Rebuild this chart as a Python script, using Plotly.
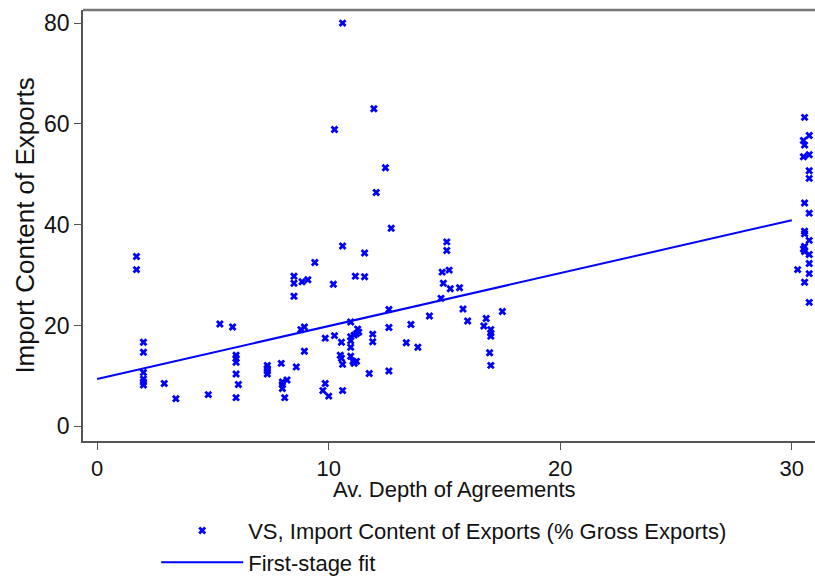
import plotly.graph_objects as go

# VS points, grouped by region of the x axis
low_depth = [1.7, 1.7, 2.0, 2.0, 2.0, 2.0, 2.0, 2.0, 2.9, 3.4, 4.8, 5.3, 5.85,
             6.0, 6.0, 6.0, 6.0, 6.1, 6.0, 7.35, 7.35, 7.35, 7.35, 7.95, 8.6,
             8.2, 8.0, 8.0, 8.0, 8.1, 8.5, 8.5, 8.5, 8.85, 9.1, 9.4, 8.8, 8.95, 8.95]
low_vs = [33.7, 31.1, 16.7, 14.7, 10.7, 9.4, 8.8, 8.2, 8.5, 5.5, 6.3, 20.3, 19.7,
          14.1, 13.5, 12.7, 10.4, 8.3, 5.7, 12.1, 11.5, 11.0, 10.4, 12.5, 11.8,
          9.2, 8.8, 8.3, 7.5, 5.7, 29.8, 28.4, 25.8, 28.7, 29.1, 32.5, 19.2, 19.7, 14.9]

mid_depth = [10.6, 11.95, 10.25, 12.45, 12.05, 12.7, 10.6, 11.55, 11.15, 11.55, 10.2,
             15.1, 15.1, 14.9, 15.2, 14.95, 15.25, 15.65, 14.85,
             12.6, 15.8, 16.0, 14.35, 13.55, 12.6, 10.95,
             16.8, 16.7, 17.0, 17.0, 17.0, 16.95, 17.0, 17.5,
             11.25, 11.3, 11.2, 11.1, 10.95, 10.95, 10.95, 10.95,
             10.55, 10.25, 9.85, 11.9, 11.9, 13.35, 13.85,
             10.5, 10.55, 10.6, 11.05, 11.2, 11.1, 11.75, 12.6,
             9.85, 9.75, 10.0, 10.6]
mid_vs = [80.0, 63.0, 58.9, 51.3, 46.4, 39.3, 35.8, 34.4, 29.8, 29.7, 28.2,
          36.6, 34.9, 30.6, 31.0, 28.4, 27.3, 27.5, 25.4,
          23.2, 23.3, 20.9, 21.9, 20.2, 19.6, 20.7,
          21.4, 19.9, 19.2, 18.5, 17.9, 14.6, 12.1, 22.8,
          19.3, 18.7, 18.4, 18.1, 17.8, 17.0, 15.7, 13.9,
          16.7, 18.0, 17.5, 18.3, 16.8, 16.6, 15.7,
          14.1, 13.5, 12.3, 12.9, 12.9, 12.5, 10.5, 11.0,
          8.5, 7.1, 6.0, 7.1]

high_depth = [30.55, 30.75, 30.5, 30.55, 30.5, 30.75, 30.75, 30.75, 30.55, 30.75, 30.55,
              30.55, 30.75, 30.55, 30.5, 30.55, 30.75, 30.75, 30.25, 30.75, 30.55, 30.75]
high_vs = [61.3, 57.7, 56.7, 55.8, 53.5, 53.9, 50.7, 49.2, 44.3, 42.3, 38.7,
           38.2, 36.9, 35.7, 35.2, 34.7, 34.1, 32.3, 31.1, 30.3, 28.6, 24.6]

depth = low_depth + mid_depth + high_depth
vs = low_vs + mid_vs + high_vs

# first-stage fit line end points
fit_x = [0, 30]
fit_y = [9.4, 40.9]

x_ticks = [0, 10, 20, 30]
y_ticks = [0, 20, 40, 60, 80]

blue = "#0000ff"
axis_color = "#555555"
font_family = "Liberation Sans, Arial, sans-serif"

fig = go.Figure()
fig.add_trace(go.Scatter(
    x=depth, y=vs, mode="markers", cliponaxis=False,
    name="VS, Import Content of Exports (% Gross Exports)",
    marker=dict(symbol="x", size=7, color=blue, line=dict(width=0)),
))
fig.add_trace(go.Scatter(
    x=fit_x, y=fit_y, mode="lines",
    name="First-stage fit",
    line=dict(color=blue, width=2),
))

fig.update_layout(
    width=815, height=576,
    margin=dict(l=83, r=0, t=10, b=135),
    paper_bgcolor="white", plot_bgcolor="white",
    font=dict(family=font_family, size=22, color="#111111"),
    showlegend=True,
    legend=dict(
        x=0.1, xanchor="left",
        y=0.115, yref="container", yanchor="top",
        itemwidth=82, font=dict(size=22),
        bgcolor="rgba(0,0,0,0)",
    ),
    xaxis=dict(
        range=[-0.61, 31.0], tickvals=x_ticks, automargin=False,
        showline=True, linecolor=axis_color, linewidth=1.5,
        ticks="outside", ticklen=7, tickcolor=axis_color,
        tickfont=dict(size=22),
        showgrid=False, zeroline=False,
    ),
    yaxis=dict(
        range=[-2.9, 82.6], tickvals=y_ticks, automargin=False,
        showline=True, linecolor=axis_color, linewidth=1.5,
        ticks="outside", ticklen=7, tickcolor=axis_color,
        tickfont=dict(size=23),
        showgrid=False, zeroline=False,
        title=dict(text="Import Content of Exports", standoff=2),
    ),
)

# x axis title placed just under the tick labels, as in the original
fig.add_annotation(text="Av. Depth of Agreements", xref="paper", yref="paper",
                   x=0.507, y=-0.113, xanchor="center", yanchor="middle",
                   showarrow=False, font=dict(size=22))

# top border of the plot frame
fig.add_shape(type="line", xref="paper", yref="paper", x0=0, x1=1, y0=1, y1=1,
              line=dict(color="#777777", width=2.5))

# drop the default 8px body margin so the figure fills the window exactly
fig.write_html("out.html", config={"displayModeBar": False},
               post_script="document.body.style.margin = '0';")
